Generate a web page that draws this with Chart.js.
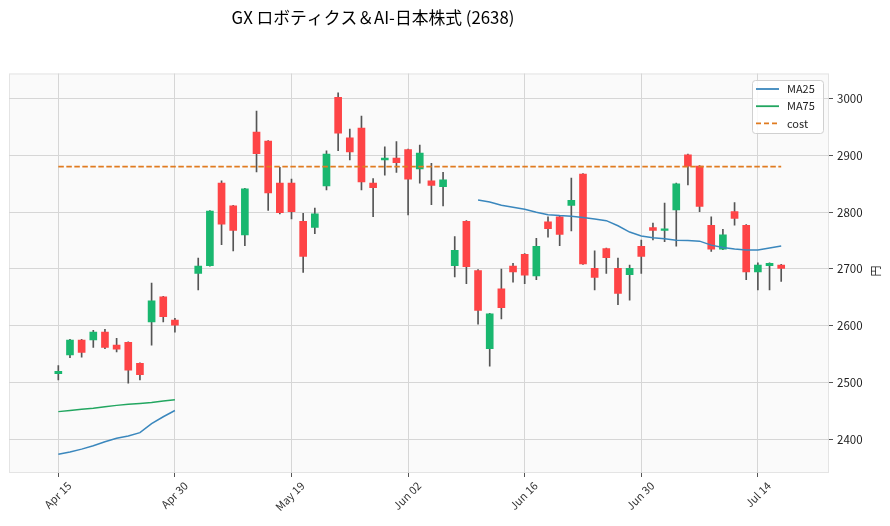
<!DOCTYPE html>
<html>
<head>
<meta charset="utf-8">
<script src="https://cdn.jsdelivr.net/npm/chart.js@4.4.1/dist/chart.umd.min.js"></script>
<style>
  body { margin: 0; background: #fff; }
  canvas { display: block; }
</style>
</head>
<body>
<canvas id="chart" width="890" height="526"></canvas>
<script>
// ticks
const tickPos = [0, 10, 20, 30, 40, 50, 60];
const tickLabels = ['Apr 15', 'Apr 30', 'May 19', 'Jun 02', 'Jun 16', 'Jun 30', 'Jul 14'];
const yTicks = [2400, 2500, 2600, 2700, 2800, 2900, 3000];

// daily prices (index 11 has no data)
const opens  = [2516,2549,2575,2575,2589,2566,2571,2534,2607,2651,2610,null,2692,2706,2851,2811,2760,2941,2925,2851,2851,2784,2773,2846,3002,2931,2948,2851,2892,2895,2910,2876,2855,2845,2706,2784,2697,2560,2665,2705,2726,2688,2783,2792,2812,2867,2701,2736,2701,2690,2740,2773,2768,2804,2901,2881,2777,2735,2801,2777,2695,2706,2707];
const highs  = [2530,2576,2576,2592,2594,2578,2572,2535,2675,2652,2613,null,2719,2803,2855,2812,2842,2978,2926,2879,2858,2798,2807,2908,3010,2946,2969,2859,2915,2924,2911,2918,2886,2870,2757,2785,2699,2622,2700,2710,2727,2754,2792,2793,2860,2868,2732,2737,2719,2707,2751,2781,2816,2851,2902,2882,2792,2770,2817,2778,2711,2711,2708];
const lows   = [2505,2544,2545,2562,2560,2554,2499,2505,2566,2607,2589,null,2663,2705,2743,2732,2741,2871,2803,2797,2788,2694,2762,2839,2908,2892,2839,2792,2865,2870,2795,2851,2813,2811,2686,2674,2603,2529,2612,2677,2674,2681,2756,2741,2767,2708,2663,2692,2637,2645,2692,2751,2748,2740,2848,2801,2731,2734,2777,2681,2663,2663,2678];
const closes = [2520,2575,2553,2589,2562,2559,2522,2514,2644,2616,2601,null,2705,2802,2779,2768,2841,2903,2834,2799,2801,2722,2797,2902,2939,2906,2853,2843,2895,2887,2858,2904,2847,2857,2733,2704,2627,2621,2632,2695,2689,2740,2771,2761,2821,2709,2685,2720,2657,2701,2722,2768,2770,2850,2881,2810,2735,2760,2789,2695,2707,2710,2701];

// moving averages (gaps where not available)
const ma25Start = [2374,2378,2383,2389,2396,2402,2406,2412,2428,2440,2451];
const ma25End = [2821.5,2818,2812,2808.6,2805,2800,2795.6,2794,2793,2790.5,2788,2785,2776,2765,2758,2755,2753,2750.5,2750,2749,2742,2738,2735,2733.5,2733.5,2737,2740.5];
const ma75Start = [2449,2451,2453,2455,2457.5,2460,2462,2463.5,2465,2467.5,2470];
const cost = 2880;

const UP = '#19b76f', DOWN = '#fe4446', WICK = '#555555';
const FONT = '"Noto Sans CJK JP", "Noto Sans", sans-serif';

const bodies = [], wicks = [], colors = [];
for (let i = 0; i < opens.length; i++) {
  if (opens[i] == null) continue;
  bodies.push({x: i, y: [opens[i], closes[i]]});
  wicks.push({x: i, y: [lows[i], highs[i]]});
  colors.push(closes[i] >= opens[i] ? UP : DOWN);
}
const ma25 = [];
ma25Start.forEach((v, i) => ma25.push({x: i, y: v}));
ma25.push({x: 11, y: null});
ma25End.forEach((v, i) => ma25.push({x: 36 + i, y: v}));
const ma75 = ma75Start.map((v, i) => ({x: i, y: v}));
const costLine = [{x: 0, y: cost}, {x: opens.length - 1, y: cost}];

const decor = {
  id: 'decor',
  beforeDraw(chart) {
    const {ctx, chartArea: a} = chart;
    ctx.save();
    ctx.fillStyle = '#fafafa';
    ctx.fillRect(a.left, a.top, a.width, a.height);
    ctx.strokeStyle = '#e4e4e4';
    ctx.lineWidth = 1;
    ctx.strokeRect(a.left + 0.5, a.top + 0.5, a.width - 1, a.height - 1);
    ctx.restore();
  },
  afterDraw(chart) {
    const ctx = chart.ctx;
    ctx.save();
    // title
    ctx.fillStyle = '#000';
    ctx.font = '16.8px ' + FONT;
    ctx.textAlign = 'center';
    ctx.textBaseline = 'middle';
    ctx.fillText('GX ロボティクス＆AI-日本株式 (2638)', 373, 18);
    // y label
    ctx.save();
    ctx.translate(876, 271);
    ctx.rotate(-Math.PI / 2);
    ctx.font = '11px ' + FONT;
    ctx.fillStyle = '#222';
    ctx.fillText('円', 0, 0);
    ctx.restore();
    // legend
    const lx = 752, ly = 80, lw = 71, lh = 53;
    ctx.fillStyle = 'rgba(255,255,255,0.85)';
    ctx.strokeStyle = '#d0d0d0';
    ctx.lineWidth = 1;
    ctx.beginPath();
    ctx.roundRect(lx + 0.5, ly + 0.5, lw, lh, 3);
    ctx.fill();
    ctx.stroke();
    const items = [
      {label: 'MA25', color: '#3a87bd', dash: []},
      {label: 'MA75', color: '#22a660', dash: []},
      {label: 'cost', color: '#e07b20', dash: [5, 3]}
    ];
    ctx.font = '11px ' + FONT;
    ctx.textAlign = 'left';
    items.forEach((it, k) => {
      const y = 89 + k * 17.2;
      ctx.strokeStyle = it.color;
      ctx.lineWidth = 1.8;
      ctx.setLineDash(it.dash);
      ctx.beginPath();
      ctx.moveTo(756, y);
      ctx.lineTo(779, y);
      ctx.stroke();
      ctx.setLineDash([]);
      ctx.fillStyle = '#222';
      ctx.fillText(it.label, 787, y);
    });
    ctx.restore();
  }
};

new Chart(document.getElementById('chart'), {
  type: 'bar',
  data: {
    datasets: [
      {type: 'line', data: costLine, borderColor: '#e07b20', borderWidth: 1.8, borderDash: [5.5, 2.5], pointRadius: 0, order: -3},
      {type: 'line', data: ma25, borderColor: '#3a87bd', borderWidth: 1.5, pointRadius: 0, spanGaps: false, order: -2},
      {type: 'line', data: ma75, borderColor: '#22a660', borderWidth: 1.5, pointRadius: 0, order: -1},
      {type: 'bar', data: bodies, backgroundColor: colors, barThickness: 7, grouped: false, borderWidth: 0, minBarLength: 1.5, order: 0},
      {type: 'bar', data: wicks, backgroundColor: WICK, barThickness: 1, grouped: false, borderWidth: 0, order: 1}
    ]
  },
  options: {
    responsive: false,
    animation: false,
    devicePixelRatio: 1,
    layout: {padding: {top: 73.5, left: 9, right: 0, bottom: 0}},
    plugins: {legend: {display: false}, tooltip: {enabled: false}, title: {display: false}},
    scales: {
      x: {
        type: 'linear', min: -4.23, max: 66.1, offset: false,
        afterBuildTicks: s => { s.ticks = tickPos.map(v => ({value: v})); },
        afterFit: s => { s.height = 53; },
        ticks: {
          autoSkip: false, maxRotation: 45, minRotation: 45, padding: 2, labelOffset: 11,
          color: '#333', font: {size: 11, family: FONT},
          callback: v => tickLabels[tickPos.indexOf(v)]
        },
        grid: {color: '#d6d6d6', tickColor: '#555', tickLength: 4, offset: false},
        border: {display: false}
      },
      y: {
        type: 'linear', position: 'right', min: 2341, max: 3044,
        afterBuildTicks: s => { s.ticks = yTicks.map(v => ({value: v})); },
        afterFit: s => { s.width = 61; },
        ticks: {color: '#222', font: {size: 11.5, family: FONT}, padding: 4, callback: v => String(v)},
        grid: {color: '#d6d6d6', tickColor: '#555', tickLength: 4},
        border: {display: false}
      }
    }
  },
  plugins: [decor]
});
</script>
</body>
</html>
